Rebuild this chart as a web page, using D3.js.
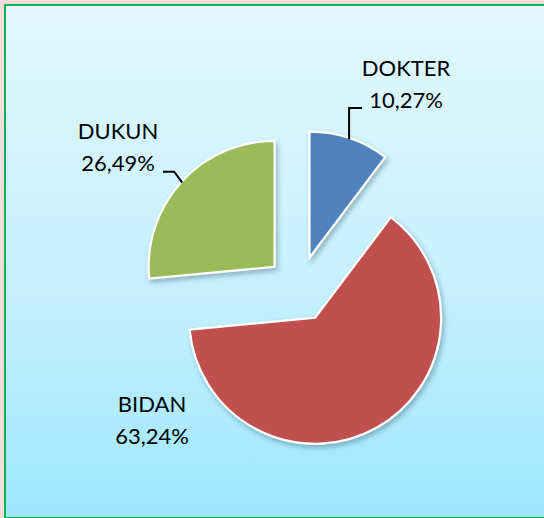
<!DOCTYPE html>
<html>
<head>
<meta charset="utf-8">
<script src="https://cdn.jsdelivr.net/npm/d3@7"></script>
<style>
  body { margin: 0; background: #f3dcdb; }
  svg { display: block; }
</style>
</head>
<body>
<div id="chart"></div>
<script>
let width_pie = 544;
let height_pie = 518;

// data
let categories = ["DOKTER", "BIDAN", "DUKUN"];
let values = [10.27, 63.24, 26.49];
let value_labels = ["10,27%", "63,24%", "26,49%"];
let slice_colors = ["#4f81bd", "#c0504d", "#9bbb59"];

let pie_center = {x: 299, y: 289};
let radius_pie = 126;
let explode = 33;

// label anchors (center x, first baseline y) and leader line type
let label_layout = {
    DOKTER: {x: 406, y: 76, leader: "up"},
    BIDAN: {x: 152, y: 412, leader: "none"},
    DUKUN: {x: 118, y: 139, leader: "diag"}
};

let svg_pie = d3.select("#chart")
    .append("svg")
    .attr("width", width_pie)
    .attr("height", height_pie);

let defs = svg_pie.append("defs");
let grad = defs.append("linearGradient")
    .attr("id", "bg_grad")
    .attr("x1", 0).attr("y1", 0).attr("x2", 0).attr("y2", 1);
grad.append("stop").attr("offset", "0%").attr("stop-color", "#e2f8ff");
grad.append("stop").attr("offset", "55%").attr("stop-color", "#c6f0fe");
grad.append("stop").attr("offset", "100%").attr("stop-color", "#9ee7fe");

let shadow = defs.append("filter")
    .attr("id", "slice_shadow")
    .attr("x", "-20%").attr("y", "-20%").attr("width", "140%").attr("height", "140%");
shadow.append("feDropShadow")
    .attr("dx", 2).attr("dy", 3).attr("stdDeviation", 2.5)
    .attr("flood-color", "#1a3a4a").attr("flood-opacity", 0.35);

// chart area
svg_pie.append("rect")
    .attr("x", 5).attr("y", 5)
    .attr("width", 560).attr("height", 513)
    .attr("fill", "url(#bg_grad)")
    .attr("stroke", "#0fb155")
    .attr("stroke-width", 2);

let pie_data = d3.pie().sort(null).value((d) => d.value).startAngle(0).endAngle(2 * Math.PI)
    (values.map((v, i) => ({name: categories[i], value: v, label: value_labels[i], color: slice_colors[i]})));

let arc_pie = d3.arc().innerRadius(0).outerRadius(radius_pie);

function slice_offset(d) {
    let mid = (d.startAngle + d.endAngle) / 2;
    return [pie_center.x + explode * Math.sin(mid), pie_center.y - explode * Math.cos(mid)];
}

let g_slices = svg_pie.append("g").attr("id", "slices");

g_slices.selectAll("path")
    .data(pie_data)
    .join("path")
    .attr("d", arc_pie)
    .attr("transform", (d) => "translate(" + slice_offset(d).join(",") + ")")
    .attr("fill", (d) => d.data.color)
    .attr("stroke", "#ffffff")
    .attr("stroke-width", 2.2)
    .attr("stroke-linejoin", "miter")
    .attr("filter", "url(#slice_shadow)");

// leader lines
let leader = svg_pie.append("g").attr("id", "leaders");
pie_data.forEach((d) => {
    let lay = label_layout[d.data.name];
    if (lay.leader === "none") return;
    let mid = (d.startAngle + d.endAngle) / 2;
    let o = slice_offset(d);
    let px = o[0] + (radius_pie - 1) * Math.sin(mid);
    let py = o[1] - (radius_pie - 1) * Math.cos(mid);
    let pts;
    if (lay.leader === "up") {
        pts = [[px, py], [px, lay.y + 32], [lay.x - 44, lay.y + 32]];
    } else {
        pts = [[px, py], [px - 8, py - 11], [lay.x + 45, py - 11]];
    }
    leader.append("path")
        .attr("d", d3.line()(pts))
        .attr("fill", "none")
        .attr("stroke", "#000000")
        .attr("stroke-width", 2);
});

// labels
let g_labels = svg_pie.append("g").attr("id", "labels")
    .attr("font-family", "Lato, 'Open Sans', sans-serif")
    .attr("font-size", 22)
    .attr("fill", "#000000")
    .attr("text-anchor", "middle");

pie_data.forEach((d) => {
    let lay = label_layout[d.data.name];
    g_labels.append("text")
        .attr("x", lay.x).attr("y", lay.y)
        .text(d.data.name);
    g_labels.append("text")
        .attr("x", lay.x).attr("y", lay.y + 32)
        .text(d.data.label);
});
</script>
</body>
</html>
